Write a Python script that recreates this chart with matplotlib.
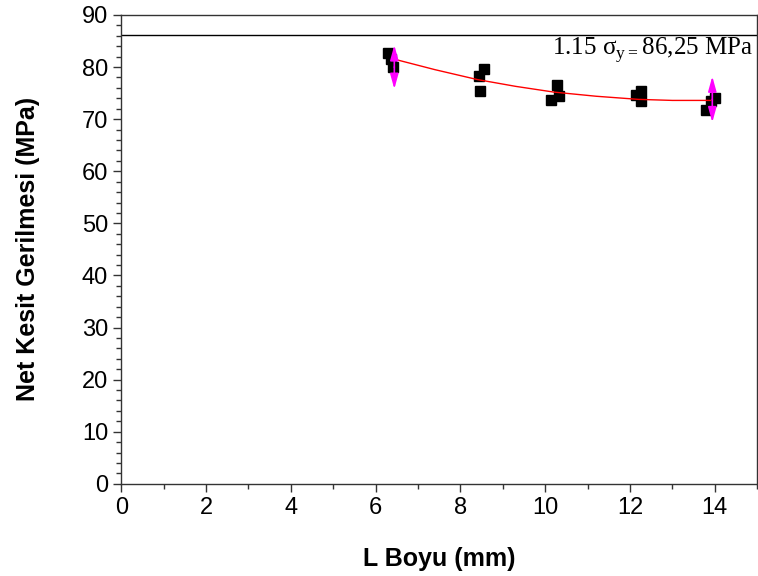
import numpy as np
import matplotlib.pyplot as plt
from matplotlib.ticker import MultipleLocator

plt.rcParams['font.family'] = ['Liberation Sans', 'DejaVu Sans']
plt.rcParams['mathtext.fontset'] = 'custom'
plt.rcParams['mathtext.rm'] = 'Liberation Serif'

# measured points (L length in mm, net section stress in MPa)
L_vals = [6.30, 6.35, 6.42, 8.55, 8.43, 8.46, 10.27, 10.33, 10.13,
          12.27, 12.15, 12.25, 14.00, 13.80, 13.92]
stress = [82.7, 81.5, 80.0, 79.6, 78.3, 75.5, 76.5, 74.4, 73.6,
          75.4, 74.7, 73.5, 74.1, 71.8, 73.5]

# fitted trend
fit_x = [6.4, 7.4, 8.4, 9.3, 10.2, 11.2, 12.2, 13.0, 13.9]
fit_y = [81.6, 79.5, 77.6, 76.3, 75.2, 74.4, 73.8, 73.6, 73.6]

# error bars shown at the two ends
err_x = [6.44, 13.94]
err_y = [80.0, 73.8]
err_e = [4.2, 4.4]

limit = 86.25

fig = plt.figure(figsize=(7.58, 5.76), dpi=100)
ax = fig.add_axes([0.16, 0.16, 0.839, 0.814])

ax.axhline(limit, color='black', lw=1.0)
ax.plot(fit_x, fit_y, color='red', lw=1.0, zorder=3)
ax.plot(L_vals, stress, 's', color='black', ms=7.5, zorder=2)

for x, y, e in zip(err_x, err_y, err_e):
    for sign in (1, -1):
        ax.annotate('', xy=(x, y + sign * e), xytext=(x, y),
                    arrowprops=dict(arrowstyle='-|>,head_length=0.9,head_width=0.25',
                                    color='magenta', lw=1.2, shrinkA=0, shrinkB=0),
                    zorder=4)

ax.text(14.9, 82.4, r'1.15 σ$_{\mathrm{y=}}$86,25 MPa', ha='right', va='baseline',
        fontsize=18, family=['Liberation Serif', 'DejaVu Serif'])

ax.set_xlim(0, 15)
ax.set_ylim(0, 90)
ax.xaxis.set_major_locator(MultipleLocator(2))
ax.xaxis.set_minor_locator(MultipleLocator(1))
ax.yaxis.set_major_locator(MultipleLocator(10))
ax.yaxis.set_minor_locator(MultipleLocator(2))
ax.tick_params(which='major', direction='out', length=6, width=1, labelsize=17, color='#333333')
ax.tick_params(which='minor', direction='out', length=3.5, width=1, color='#333333')
for s in ax.spines.values():
    s.set_linewidth(1.0)
    s.set_color('#333333')

ax.set_xlabel('L Boyu (mm)', fontsize=18, fontweight='bold', labelpad=20)
ax.set_ylabel('Net Kesit Gerilmesi (MPa)', fontsize=18, fontweight='bold', labelpad=30)

fig.savefig('out.png', dpi=100)
